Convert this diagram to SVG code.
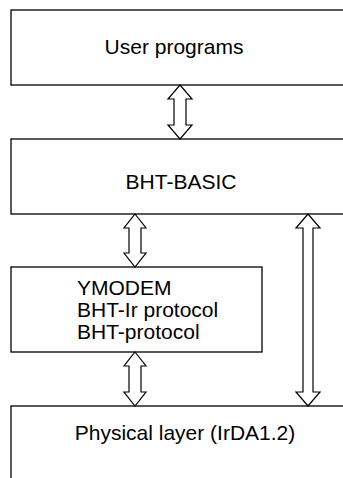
<svg xmlns="http://www.w3.org/2000/svg" width="343" height="478" viewBox="0 0 343 478">
<style>
.box{fill:#fff;stroke:#000;stroke-width:1.3}
.arr{fill:#fff;stroke:#000;stroke-width:1.2;stroke-linejoin:miter}
text{font-family:"Liberation Sans",Arial,sans-serif;font-size:21px;fill:#000}
</style>
<rect width="343" height="478" fill="#fff"/>
<g id="user-programs">
<rect class="box" x="11" y="10" width="360" height="75"/>
<text x="174" y="54" text-anchor="middle">User programs</text>
</g>
<g id="bht-basic">
<rect class="box" x="11" y="139" width="360" height="75"/>
<text x="181" y="189" text-anchor="middle">BHT-BASIC</text>
</g>
<g id="protocols">
<rect class="box" x="11" y="267" width="251" height="85"/>
<text x="77" y="295">YMODEM</text>
<text x="77" y="317">BHT-Ir protocol</text>
<text x="77" y="339">BHT-protocol</text>
</g>
<g id="physical-layer">
<rect class="box" x="11" y="406" width="360" height="100"/>
<text x="185" y="440" text-anchor="middle">Physical layer (IrDA1.2)</text>
</g>
<g id="connectors">
<polygon class="arr" points="180,85 192,99 186,99 186,125 192,125 180,139 168,125 174,125 174,99 168,99"/>
<polygon class="arr" points="135,214 146,228 141,228 141,253 146,253 135,267 124,253 129,253 129,228 124,228"/>
<polygon class="arr" points="135,352 146,366 141,366 141,392 146,392 135,406 124,392 129,392 129,366 124,366"/>
<polygon class="arr" points="308,214 320,228 313,228 313,392 320,392 308,406 296,392 303,392 303,228 296,228"/>
</g>
</svg>
